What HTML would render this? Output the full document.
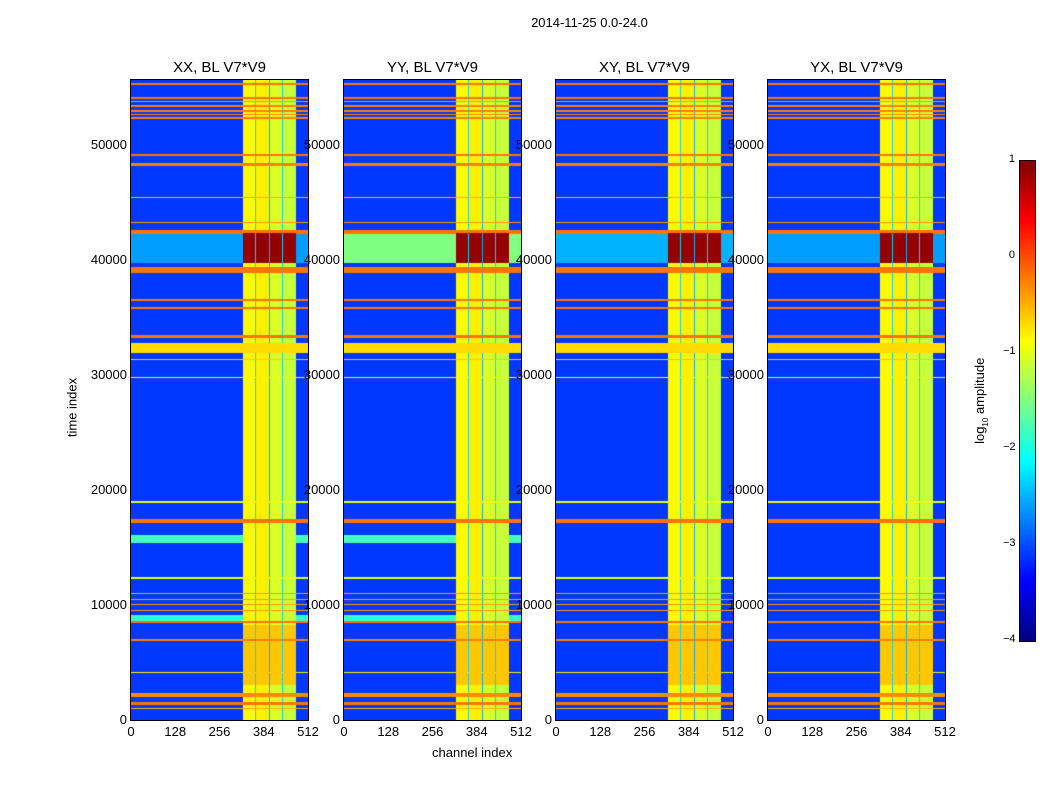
<!DOCTYPE html>
<html><head><meta charset="utf-8"><style>
body{margin:0;background:#fff;width:1050px;height:800px;position:relative;font-family:"Liberation Sans",sans-serif;overflow:hidden}
.t{position:absolute;font-size:13px;color:#000;white-space:nowrap}
.title{font-size:15px}
canvas{position:absolute;border:1px solid #000;box-sizing:content-box}
</style></head><body>
<div class="t" style="left:0;width:1179px;text-align:center;top:15px">2014-11-25 0.0-24.0</div>
<div class="t" style="top:400px;transform:rotate(-90deg);transform-origin:center;width:80px;text-align:center;left:32px">time index</div>
<div class="t" style="left:432px;top:745px">channel index</div>
<div id="root"></div>
<canvas id="cb" width="15" height="480" style="left:1019px;top:160px;width:15px;height:480px"></canvas>
<div class="t" style="left:936px;top:392px;transform:rotate(-90deg);width:90px;text-align:center">log<sub style="font-size:8px">10</sub> amplitude</div>
<script>
// ---- data ----
const panelNames = ["XX, BL V7*V9","YY, BL V7*V9","XY, BL V7*V9","YX, BL V7*V9"];
const yTicks = [0,10000,20000,30000,40000,50000];
const xTicks = [0,128,256,384,512];
const cbTicks = [1,0,-1,-2,-3,-4];
const tMax = 55650, chMax = 512, vMin = -4, vMax = 1;
const background = -3.1;
// vertical channel bands: [chStart, chEnd, log amplitude]
const vBands = [[325,360,-0.85],[362,400,-0.8],[403,438,-1.05],[441,478,-1.15]];
// dark gaps inside the bright block
const vGaps = [[360,362,-2.3],[400,403,-2.5],[438,441,-2.3]];
// horizontal time bands: [tStart, tEnd, log amplitude]
const hBands = [[55200,55400,-0.2],[54000,54200,-0.2],[53700,53800,-0.4],[53300,53450,-0.25],[52900,53000,-0.25],
 [52600,52700,-0.3],[52300,52450,-0.25],[49000,49200,-0.2],
 [48200,48400,-0.25],[45400,45500,-0.5],[43200,43300,-0.4],[42300,42650,-0.2],[38900,39400,-0.2],[36400,36600,-0.2],
 [35700,35900,-0.2],[33200,33500,-0.2],[31900,32800,-0.7],[31300,31400,-0.6],[29700,29800,-1.0],[18900,19000,-1.0],
 [17100,17500,-0.2],[12300,12400,-1.0],[10950,11050,-0.4],[10400,10500,-0.4],[10000,10100,-0.4],[9500,9600,-0.4],
 [8400,8600,-0.2],[6900,7000,-0.25],[4050,4150,-0.8],[2000,2350,-0.3],[1300,1550,-0.2],[950,1050,-0.5]];
// extra bands per panel
const extraBands = [
 [[15400,16100,-1.8],[8600,9100,-1.9],[39700,42300,-2.6]],
 [[15400,16100,-1.8],[8600,9100,-1.9],[39700,42300,-1.5]],
 [[39700,42300,-2.5]],
 [[39700,42300,-2.6]]];
// high-amplitude blocks within the bright channels: [tStart,tEnd,value]
const hotBlocks = [[39700,42350,0.9],[3000,8300,-0.6]];

function jet(v){const x=Math.max(0,Math.min(1,(v-vMin)/(vMax-vMin)));
 const c=f=>Math.round(255*Math.max(0,Math.min(1,f)));
 return [c(1.5-Math.abs(4*x-3)),c(1.5-Math.abs(4*x-2)),c(1.5-Math.abs(4*x-1))];}
function inB(arr,v){for(const b of arr)if(v>=b[0]&&v<b[1])return b[2];return null;}

const lefts=[131,344,556,768], topY=80, W=177, H=640;
const root=document.getElementById('root');
function sx(ch){return ch/chMax*W;} function sy(t){return H-t/tMax*H;}
panelNames.forEach((name,p)=>{
 const L=lefts[p];
 const cv=document.createElement('canvas');
 
 
 cv.width=W;cv.height=H;cv.style.left=(L-1)+'px';cv.style.top=(topY-1)+'px';cv.style.width=W+'px';cv.style.height=H+'px';
 root.appendChild(cv);
 const ctx=cv.getContext('2d');const img=ctx.createImageData(W,H);
 for(let y=0;y<H;y++){const t=(H-y-0.5)/H*tMax;
  const hb=inB(hBands,t), eb=inB(extraBands[p],t), hot=inB(hotBlocks,t);
  for(let x=0;x<W;x++){const ch=(x+0.5)/W*chMax;
   let v=background;const vb=inB(vBands,ch),vg=inB(vGaps,ch);
   if(vb!==null)v=vb; if(vg!==null)v=vg;
   if(vb!==null&&hot!==null)v=Math.max(v,hot);
   if(eb!==null&&vb===null&&vg===null)v=Math.max(v,eb);
   if(hb!==null)v=Math.max(v,hb);
   const c=jet(v),i=(y*W+x)*4;img.data[i]=c[0];img.data[i+1]=c[1];img.data[i+2]=c[2];img.data[i+3]=255;}}
 ctx.putImageData(img,0,0);
 const tt=document.createElement('div');tt.className='t title';
 
 
 tt.style.left=L+'px';tt.style.width=W+'px';tt.style.textAlign='center';tt.style.top='59px';tt.textContent=name;root.appendChild(tt);
 yTicks.forEach(v=>{const d=document.createElement('div');d.className='t';
  
  
  d.style.left=(L-60)+'px';d.style.width='56px';d.style.textAlign='right';d.style.top=(topY+sy(v)-8)+'px';d.textContent=v;root.appendChild(d);});
 xTicks.forEach(v=>{const d=document.createElement('div');d.className='t';
  
  
  d.style.left=(L+sx(v)-20)+'px';d.style.width='40px';d.style.textAlign='center';d.style.top='724px';d.textContent=v;root.appendChild(d);});
});
// colorbar
const cb=document.getElementById('cb'),cx=cb.getContext('2d');
for(let y=0;y<480;y++){const v=vMax-(y+0.5)/480*(vMax-vMin);const c=jet(v);cx.fillStyle=`rgb(${c[0]},${c[1]},${c[2]})`;cx.fillRect(0,y,15,1);}
cbTicks.forEach(v=>{const d=document.createElement('div');d.className='t';
 
 
 d.style.left='1003px';d.style.width='12px';d.style.textAlign='right';d.style.fontSize='11px';
 d.style.top=(160+(vMax-v)/(vMax-vMin)*480-7)+'px';d.textContent=v<0?'\u2212'+(-v):v;document.body.appendChild(d);});
</script>
</body></html>
